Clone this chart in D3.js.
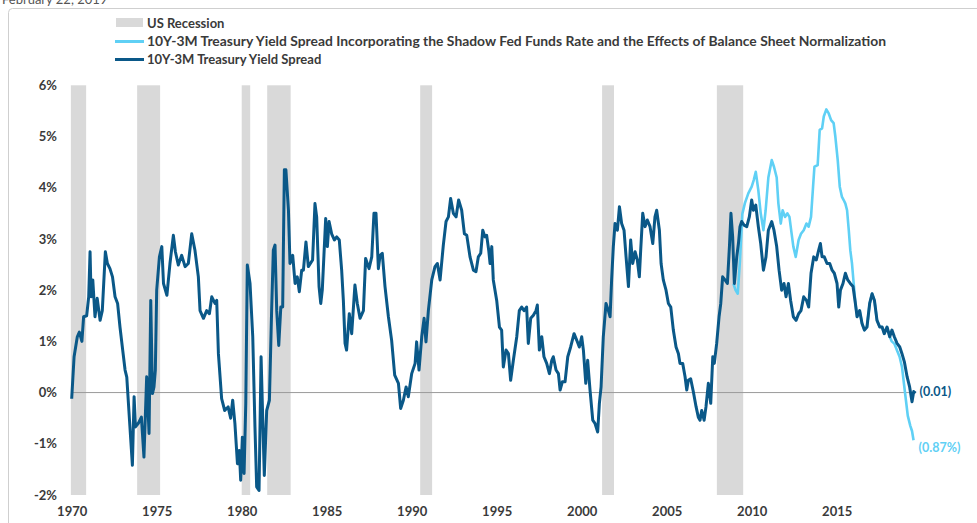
<!DOCTYPE html>
<html>
<head>
<meta charset="utf-8">
<script src="https://cdn.jsdelivr.net/npm/d3@7"></script>
<style>
  html, body { margin: 0; padding: 0; background: #fff; }
  svg { display: block; }
  text { font-family: Lato, "Open Sans", sans-serif; font-weight: bold; fill: #3a3a3a; }
</style>
</head>
<body>
<svg id="chart" width="977" height="523"></svg>
<script>
// ---------------- DATA ----------------
const dateLabel = "February 22, 2019";
const legendLabels = [
  "US Recession",
  "10Y-3M Treasury Yield Spread Incorporating the Shadow Fed Funds Rate and the Effects of Balance Sheet Normalization",
  "10Y-3M Treasury Yield Spread"
];
const recessionStarts = [1969.95, 1973.85, 1980.0, 1981.5, 1990.5, 2001.2, 2007.95];
const recessionEnds   = [1970.85, 1975.2, 1980.5, 1982.88, 1991.2, 2001.9, 2009.5];

const yTicks = [-2, -1, 0, 1, 2, 3, 4, 5, 6];
const yTickLabels = ["-2%", "-1%", "0%", "1%", "2%", "3%", "4%", "5%", "6%"];
const xTicks = [1970, 1975, 1980, 1985, 1990, 1995, 2000, 2005, 2010, 2015];

const spreadYears = [
1970.0,1970.14,1970.33,1970.45,1970.6,1970.7,1970.88,1971.0,1971.08,1971.14,1971.24,1971.37,1971.5,1971.67,1971.8,1971.98,
1972.1,1972.25,1972.4,1972.55,1972.7,1972.84,1973.0,1973.14,1973.24,1973.4,1973.57,1973.67,1973.75,1973.92,
1974.1,1974.25,1974.41,1974.55,1974.65,1974.75,1974.84,1974.92,1975.0,1975.16,1975.3,1975.4,1975.6,1975.78,1975.98,
1976.1,1976.27,1976.47,1976.67,1976.86,1977.06,1977.25,1977.45,1977.55,1977.75,1977.94,1978.1,1978.24,1978.43,1978.53,
1978.63,1978.82,1979.0,1979.2,1979.35,1979.47,1979.6,1979.75,1979.86,1979.94,1980.04,1980.14,1980.24,1980.33,1980.49,
1980.65,1980.78,1980.88,1981.02,1981.14,1981.24,1981.33,1981.47,1981.63,1981.76,1981.86,1981.96,1982.06,1982.18,1982.3,
1982.41,1982.51,1982.6,1982.75,1982.84,1983.0,1983.14,1983.27,1983.39,1983.53,1983.63,1983.78,1983.92,1984.17,1984.31,
1984.41,1984.55,1984.65,1984.74,1984.94,1985.04,1985.14,1985.29,1985.45,1985.59,1985.74,1985.88,1985.98,1986.08,1986.17,
1986.33,1986.47,1986.66,1986.8,1986.96,1987.16,1987.29,1987.49,1987.65,1987.78,1987.9,1988.04,1988.14,1988.27,1988.43,
1988.63,1988.82,1989.0,1989.22,1989.35,1989.51,1989.67,1989.8,1990.0,1990.2,1990.29,1990.43,1990.59,1990.73,1990.84,
1990.98,1991.18,1991.37,1991.51,1991.67,1991.86,1992.02,1992.16,1992.29,1992.45,1992.61,1992.76,1992.94,1993.1,1993.24,
1993.43,1993.63,1993.78,1993.92,1994.06,1994.18,1994.31,1994.41,1994.53,1994.61,1994.71,1994.8,1995.0,1995.16,1995.29,
1995.39,1995.55,1995.69,1995.82,1995.98,1996.18,1996.33,1996.47,1996.61,1996.76,1996.86,1997.0,1997.16,1997.31,1997.39,
1997.51,1997.65,1997.78,1997.94,1998.1,1998.24,1998.33,1998.49,1998.63,1998.73,1998.86,1999.02,1999.18,1999.35,1999.55,
1999.71,1999.86,2000.0,2000.1,2000.24,2000.35,2000.49,2000.65,2000.78,2000.94,2001.04,2001.14,2001.27,2001.43,2001.57,
2001.67,2001.76,2001.86,2001.96,2002.1,2002.22,2002.35,2002.49,2002.61,2002.75,2002.88,2003.0,2003.14,2003.27,2003.39,
2003.47,2003.59,2003.73,2003.86,2004.02,2004.18,2004.31,2004.41,2004.57,2004.67,2004.8,2004.96,2005.1,2005.24,2005.39,
2005.55,2005.69,2005.78,2005.94,2006.08,2006.18,2006.27,2006.41,2006.57,2006.73,2006.86,2006.96,2007.06,2007.2,2007.31,
2007.45,2007.59,2007.71,2007.8,2007.94,2008.08,2008.18,2008.29,2008.43,2008.57,2008.69,2008.78,2008.88,2008.98,2009.12,
2009.22,2009.31,2009.41,2009.55,2009.71,2009.86,2010.0,2010.1,2010.24,2010.39,2010.53,2010.69,2010.84,2010.98,2011.18,
2011.31,2011.47,2011.61,2011.76,2011.9,2012.02,2012.16,2012.29,2012.45,2012.61,2012.76,2012.9,2013.06,2013.22,2013.35,
2013.49,2013.65,2013.8,2013.94,2014.04,2014.14,2014.27,2014.43,2014.59,2014.73,2014.86,2015.02,2015.12,2015.22,2015.37,
2015.51,2015.65,2015.8,2015.96,2016.1,2016.2,2016.35,2016.49,2016.63,2016.78,2016.94,2017.08,2017.22,2017.37,2017.53,
2017.67,2017.8,2017.96,2018.12,2018.25,2018.39,2018.55,2018.71,2018.84,2018.98,2019.14,2019.29,2019.43,2019.53,2019.64
];
const spreadValues = [
-0.12,0.7,1.09,1.18,1.0,1.48,1.5,1.87,2.75,1.87,2.2,1.48,1.84,1.41,1.6,2.75,
2.52,2.42,2.26,1.87,1.74,1.28,0.83,0.44,0.3,-0.54,-1.42,-0.08,-0.67,-0.6,
-0.48,-1.26,0.31,-0.8,1.8,-0.02,0.11,0.44,2.0,2.65,2.85,2.13,1.9,2.52,3.07,
2.75,2.49,2.68,2.46,2.52,3.1,2.78,2.26,1.6,1.45,1.6,1.54,1.87,1.74,1.8,
0.76,-0.12,-0.35,-0.28,-0.5,-0.15,-0.6,-1.39,-1.13,-1.71,-0.87,-1.58,-0.21,2.49,2.13,
1.09,-0.67,-1.84,-1.91,0.7,-0.54,-1.62,-0.35,-0.15,1.6,2.78,2.88,1.6,0.92,1.67,
1.67,4.35,4.35,3.56,2.52,2.68,2.13,2.26,1.97,2.39,2.39,2.94,2.46,2.59,3.69,
3.43,2.07,1.74,2.0,3.4,2.85,3.34,3.1,2.98,3.04,2.98,2.39,1.8,0.96,0.83,
1.54,1.15,2.1,1.74,1.45,1.6,2.62,2.42,2.65,3.5,3.5,2.42,2.68,2.72,2.07,
1.48,1.02,0.34,0.18,-0.31,-0.15,0.11,-0.08,0.37,0.57,0.99,0.44,1.09,1.45,0.99,
1.6,2.2,2.46,2.52,2.2,2.88,3.34,3.43,3.79,3.5,3.43,3.76,3.56,3.1,3.07,
2.65,2.39,2.36,2.65,2.72,3.17,3.04,3.07,2.78,2.52,2.85,2.2,1.8,1.28,1.22,
0.5,0.83,0.76,0.24,0.63,1.09,1.6,1.67,1.6,1.67,0.96,1.45,1.51,1.6,1.71,
0.83,1.09,0.7,0.57,0.37,0.63,0.7,0.44,0.37,0.05,0.21,0.21,0.7,0.89,1.15,
1.02,0.89,1.09,0.83,0.18,0.63,0.05,-0.54,-0.6,-0.77,-0.21,0.11,1.09,1.74,1.6,
1.48,2.2,2.85,3.3,3.17,3.63,3.3,3.17,2.65,2.07,2.98,2.52,2.75,2.59,2.26,
2.78,3.5,3.24,3.37,3.24,2.91,3.43,3.56,3.17,2.52,2.2,2.0,1.74,1.67,1.22,
0.89,0.76,0.57,0.57,0.31,0.05,0.24,0.27,0.01,-0.28,-0.48,-0.54,-0.35,-0.54,-0.28,
0.18,-0.21,0.7,0.57,0.96,1.48,1.74,2.26,2.2,2.13,2.85,3.5,3.04,2.13,2.65,
2.91,3.24,3.34,3.27,3.24,3.43,3.76,3.56,3.66,3.24,2.91,2.39,2.65,3.17,3.34,
3.17,2.85,2.39,2.0,2.13,1.87,2.13,1.8,1.48,1.41,1.54,1.6,1.87,1.8,1.67,
2.33,2.65,2.59,2.78,2.91,2.65,2.65,2.52,2.52,2.39,2.33,2.13,1.67,2.0,2.13,
2.33,2.2,2.13,2.07,1.74,1.48,1.6,1.35,1.22,1.28,1.74,1.93,1.8,1.41,1.28,
1.28,1.15,1.28,1.09,1.22,1.09,0.96,0.89,0.76,0.6,0.31,0.11,-0.18,0.02,-0.01
];

const shadowYears = [
2008.92,2009.05,2009.18,2009.31,2009.45,2009.6,2009.8,2010.0,2010.12,2010.24,2010.39,2010.53,2010.69,2010.82,2010.98,
2011.18,2011.31,2011.47,2011.57,2011.71,2011.82,2011.96,2012.1,2012.22,2012.35,2012.45,2012.59,2012.76,2012.9,2013.06,
2013.22,2013.35,2013.49,2013.61,2013.69,2013.88,2014.0,2014.14,2014.24,2014.39,2014.53,2014.67,2014.82,2014.92,2015.06,
2015.18,2015.31,2015.41,2015.51,2015.61,2015.71,2015.8,2015.9,2016.0,2016.1,2016.2,2016.35,2016.49,2016.63,2016.78,
2016.94,2017.08,2017.22,2017.37,2017.53,2017.67,2017.8,2017.96,2018.12,2018.24,2018.4,2018.55,2018.7,2018.84,2019.0,
2019.18,2019.33,2019.43,2019.52
];
const shadowValues = [
2.13,2.0,1.93,2.58,3.49,3.7,3.89,4.02,4.15,4.31,3.95,3.5,3.17,3.56,4.2,
4.54,4.41,4.2,3.69,3.3,3.56,3.43,3.5,3.43,3.1,2.85,2.65,2.98,3.1,3.17,
3.3,3.24,3.43,4.02,4.41,4.44,5.13,5.16,5.39,5.53,5.45,5.32,5.26,5.0,4.54,
4.02,3.82,3.76,3.69,3.56,3.17,2.78,2.52,2.13,1.74,1.48,1.6,1.35,1.22,1.28,
1.74,1.93,1.8,1.41,1.28,1.28,1.15,1.28,1.09,1.0,0.95,0.82,0.7,0.5,0.05,
-0.45,-0.65,-0.75,-0.93
];
const endLabels = ["(0.01)", "(0.87%)"];

// ---------------- CHART ----------------
const darkBlue = "#0a5888";
const lightBlue = "#5fd0f5";
const svg = d3.select("#chart");

const x = d3.scaleLinear().domain([1970, 2020]).range([71.7, 921.7]);
const y = d3.scaleLinear().domain([-2, 6]).range([495, 85.3]);

// frame and cut-off date (partially cut at the top, as in the reference)
svg.append("text").attr("x", 2).attr("y", 4).style("font-size", "13px")
  .style("font-weight", "normal").style("fill", "#555").text(dateLabel);
svg.append("rect").attr("x", 8.5).attr("y", 8.5).attr("width", 980).attr("height", 530)
  .attr("rx", 4).attr("fill", "none").attr("stroke", "#cfcfcf").attr("stroke-width", 1);

// recessions
svg.append("g").selectAll("rect")
  .data(d3.zip(recessionStarts, recessionEnds))
  .join("rect")
  .attr("x", d => x(d[0]))
  .attr("width", d => x(d[1]) - x(d[0]))
  .attr("y", y(6))
  .attr("height", y(-2) - y(6))
  .attr("fill", "#d9d9d9");

// zero line
svg.append("line")
  .attr("x1", x(1970)).attr("x2", x(spreadYears[spreadYears.length - 1]))
  .attr("y1", y(0)).attr("y2", y(0))
  .attr("stroke", "#9a9a9a").attr("stroke-width", 1);

// y axis (labels only)
const yAxis = d3.axisLeft(y).tickValues(yTicks).tickSize(0).tickPadding(0)
  .tickFormat((d, i) => yTickLabels[i]);
const gy = svg.append("g").attr("transform", "translate(57,0)").call(yAxis);
gy.select(".domain").remove();
gy.selectAll("text").style("font-size", "13px").style("font-family", "Lato, sans-serif")
  .style("font-weight", "bold").attr("fill", "#3a3a3a");

// x axis (labels only)
const xAxis = d3.axisBottom(x).tickValues(xTicks).tickSize(0).tickPadding(0)
  .tickFormat(d3.format("d"));
const gx = svg.append("g").attr("transform", "translate(0,507)").call(xAxis);
gx.select(".domain").remove();
gx.selectAll("text").style("font-size", "13px").style("font-family", "Lato, sans-serif")
  .style("font-weight", "bold").attr("fill", "#3a3a3a");

// lines
const line = d3.line().x(d => x(d[0])).y(d => y(d[1]));
svg.append("path").datum(d3.zip(shadowYears, shadowValues))
  .attr("d", line).attr("fill", "none").attr("stroke", lightBlue)
  .attr("stroke-width", 2.6).attr("stroke-linejoin", "round");
svg.append("path").datum(d3.zip(spreadYears, spreadValues))
  .attr("d", line).attr("fill", "none").attr("stroke", darkBlue)
  .attr("stroke-width", 3).attr("stroke-linejoin", "round");

// end labels
const lastS = spreadYears.length - 1, lastH = shadowYears.length - 1;
svg.append("text").attr("x", x(spreadYears[lastS]) + 4).attr("y", y(spreadValues[lastS]) + 3)
  .style("font-size", "12.5px").style("fill", darkBlue).text(endLabels[0]);
svg.append("text").attr("x", x(shadowYears[lastH]) + 5).attr("y", y(shadowValues[lastH]) + 12)
  .style("font-size", "12.5px").style("fill", lightBlue).text(endLabels[1]);

// legend
const lg = svg.append("g");
lg.append("rect").attr("x", 116).attr("y", 18).attr("width", 27).attr("height", 9).attr("fill", "#d9d9d9");
lg.append("line").attr("x1", 115).attr("x2", 144).attr("y1", 41.5).attr("y2", 41.5)
  .attr("stroke", lightBlue).attr("stroke-width", 3);
lg.append("line").attr("x1", 115).attr("x2", 144).attr("y1", 59.5).attr("y2", 59.5)
  .attr("stroke", darkBlue).attr("stroke-width", 3);
const legendY = [27.5, 46, 64];
const legendW = [null, 739, null];
legendLabels.forEach((t, i) => {
  const el = lg.append("text").attr("x", 147).attr("y", legendY[i])
    .style("font-size", "13px").text(t);
  if (legendW[i]) el.attr("textLength", legendW[i]).attr("lengthAdjust", "spacingAndGlyphs");
});
</script>
</body>
</html>
